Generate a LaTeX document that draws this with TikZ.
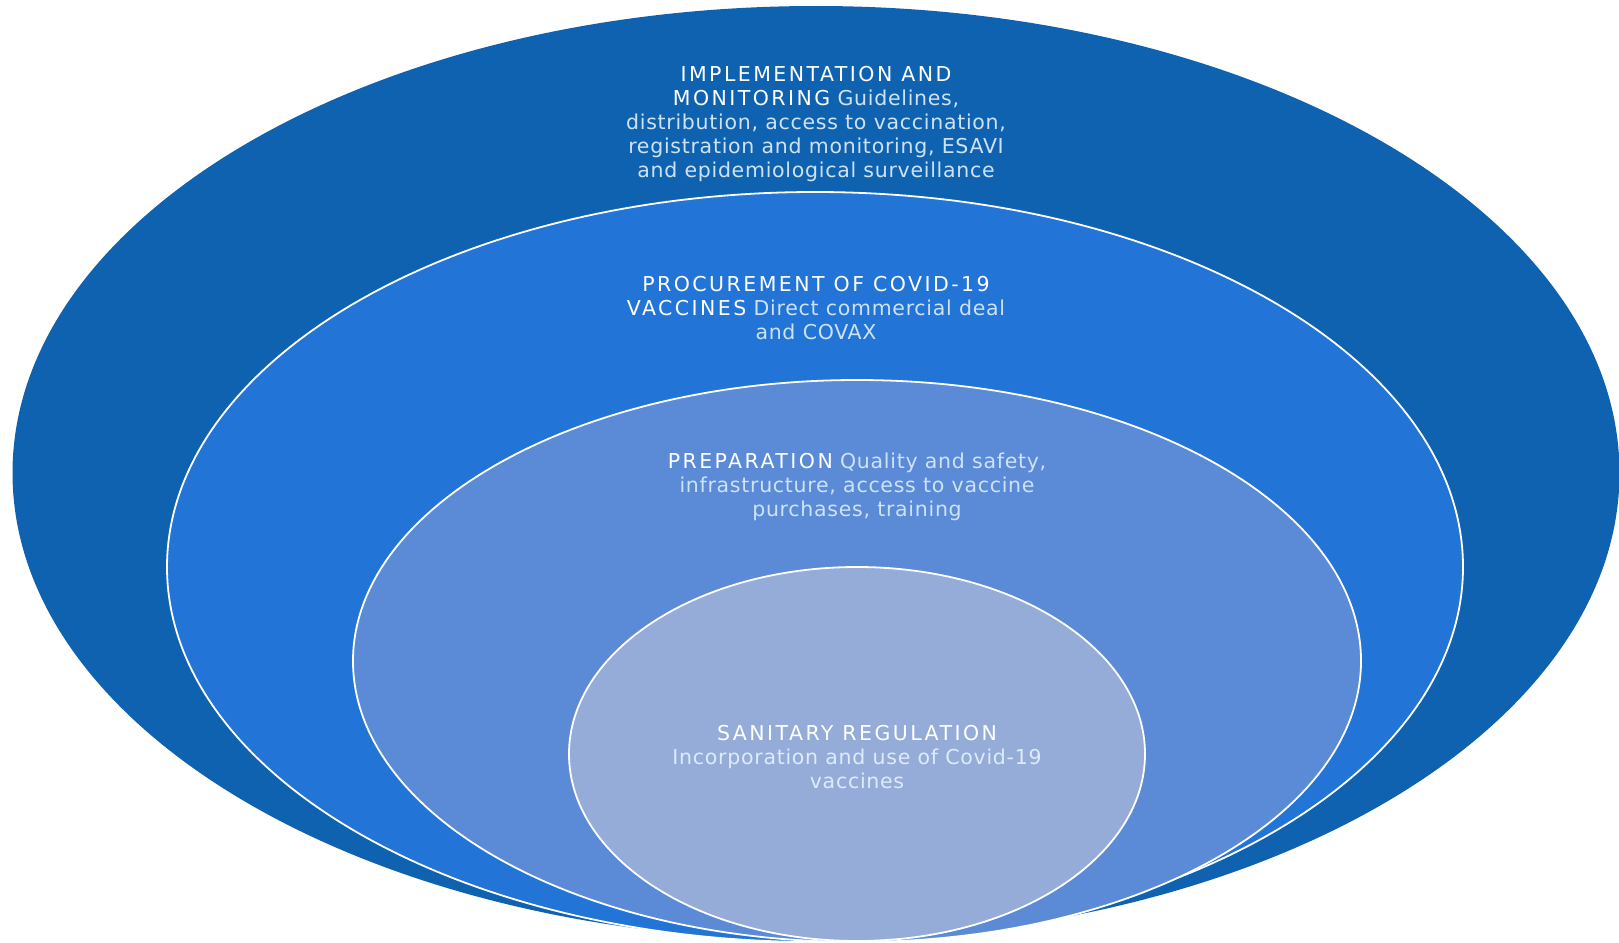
\documentclass[tikz,border=0pt]{standalone}
\usepackage{fontspec}
\setmainfont[LetterSpace=3.5]{DejaVu Sans}
\usetikzlibrary{shapes.geometric}
\definecolor{ringOuter}{RGB}{15,98,176}
\definecolor{ringProc}{RGB}{34,116,214}
\definecolor{ringPrep}{RGB}{91,139,214}
\definecolor{ringSan}{RGB}{149,172,216}
\definecolor{bodyText}{RGB}{206,226,246}
\tikzset{
    ring/.style={
        ellipse,
        inner sep=0pt,
        draw=white,
        line width=1.8pt
    },
    ringtext/.style={
        align=center,
        font=\fontsize{20.5}{24}\selectfont,
        text=bodyText,
        inner sep=0pt
    }
}
\newcommand{\ringtitle}[1]{{\addfontfeature{LetterSpace=12}\textcolor{white}{#1}}}

\begin{document}
\begin{tikzpicture}[x=1pt, y=-1pt]
    \useasboundingbox (0,0) rectangle (1619,942);
    % rings, outer first
    \node[ring, draw=none, fill=ringOuter, minimum width=1607pt, minimum height=934pt] (outer) at (816,473) {};
    \node[ring, fill=ringProc, minimum width=1296pt, minimum height=750pt] (procure) at (815,567) {};
    \node[ring, fill=ringPrep, minimum width=1008pt, minimum height=562pt] (prep) at (857,661) {};
    \node[ring, fill=ringSan, minimum width=576pt, minimum height=374pt] (sanit) at (857,754) {};

    % labels
    \node[ringtext] (outerlbl) at (816,124) {\ringtitle{IMPLEMENTATION AND}\\
        \ringtitle{MONITORING} Guidelines,\\
        distribution, access to vaccination,\\
        registration and monitoring, ESAVI\\
        and epidemiological surveillance};
    \node[ringtext] (procurelbl) at (816,308) {\ringtitle{PROCUREMENT OF COVID-19}\\
        \ringtitle{VACCINES} Direct commercial deal\\
        and COVAX};
    \node[ringtext] (preplbl) at (857,487) {\ringtitle{PREPARATION} Quality and safety,\\
        infrastructure, access to vaccine\\
        purchases, training};
    \node[ringtext, text=bodyText!70!white] (sanitlbl) at (857,757) {\ringtitle{SANITARY REGULATION}\\
        Incorporation and use of Covid-19\\
        vaccines};
\end{tikzpicture}
\end{document}
